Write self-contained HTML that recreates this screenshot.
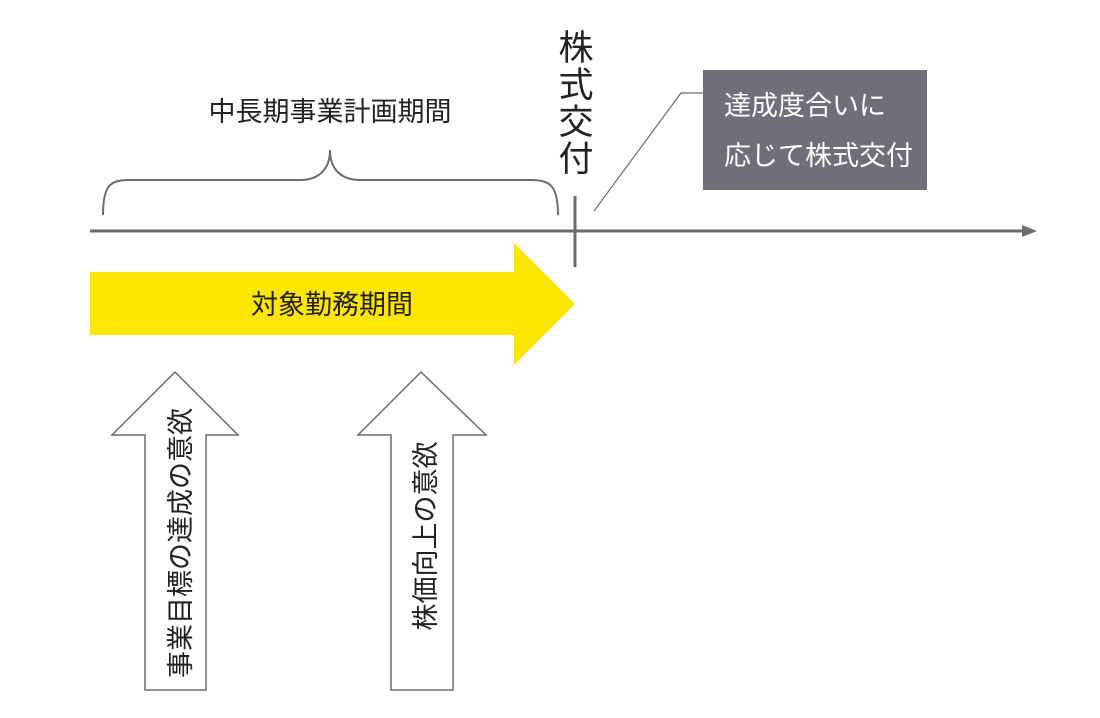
<!DOCTYPE html>
<html><head><meta charset="utf-8"><style>
body{margin:0;background:#fff;}
svg text{font-family:"Liberation Sans","Noto Sans CJK JP",sans-serif;}
</style></head><body>
<svg width="1100" height="713" viewBox="0 0 1100 713" xmlns="http://www.w3.org/2000/svg">
<text x="330" y="121" font-size="27" text-anchor="middle" fill="#222">中長期事業計画期間</text>
<path d="M103,215 C103,185 110,180 130,180 L300,180 C318,180 330,170 330,150 C330,170 342,180 360,180 L530,180 C550,180 558,185 558,215" fill="none" stroke="#6b6b75" stroke-width="2"/>
<g font-size="35" fill="#222" text-anchor="middle">
<text x="576" y="60">株</text><text x="576" y="97">式</text><text x="576" y="134">交</text><text x="576" y="171">付</text>
</g>
<rect x="703" y="70" width="224" height="120" fill="#6f6e7a"/>
<text x="724" y="115" font-size="27" fill="#fff">達成度合いに</text>
<text x="724" y="165" font-size="27" fill="#fff">応じて株式交付</text>
<polyline points="594,211 681,93 704,93" fill="none" stroke="#6b6b75" stroke-width="1.2"/>
<line x1="90" y1="231" x2="1026" y2="231" stroke="#6b6b75" stroke-width="3"/>
<polygon points="1022,225 1037,231 1022,237" fill="#6b6b75"/>
<line x1="575" y1="196" x2="575" y2="267" stroke="#6b6b75" stroke-width="3"/>
<polygon points="90,272 514,272 514,243 575,304 514,365 514,335 90,335" fill="#ffe600"/>
<text x="332" y="314" font-size="27" text-anchor="middle" fill="#222">対象勤務期間</text>
<polygon points="175,372 238,435 206,435 206,690 145,690 145,435 112,435" fill="#fff" stroke="#6b6b75" stroke-width="1.5"/>
<polygon points="421,372 486,435 453,435 453,690 391,690 391,435 358,435" fill="#fff" stroke="#6b6b75" stroke-width="1.5"/>
<text transform="translate(190,543) rotate(-90)" font-size="27" text-anchor="middle" fill="#222">事業目標の達成の意欲</text>
<text transform="translate(435,536) rotate(-90)" font-size="27" text-anchor="middle" fill="#222">株価向上の意欲</text>
</svg>
</body></html>
